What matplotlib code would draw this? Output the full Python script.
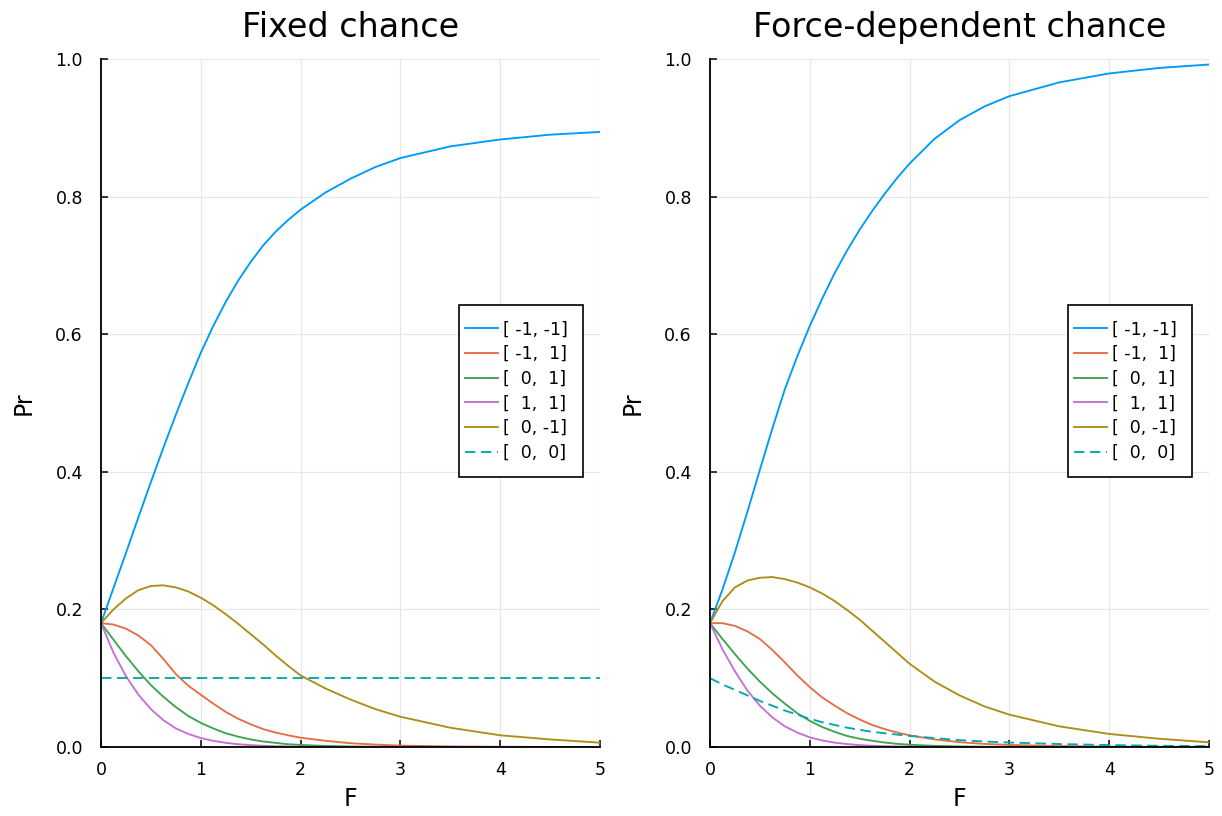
import matplotlib
matplotlib.use("Agg")
import matplotlib.pyplot as plt
from matplotlib.patches import Rectangle

# force values (F) at which the probabilities were tabulated
F = [0, 0.125, 0.25, 0.375, 0.5, 0.625, 0.75, 0.875, 1.0, 1.125, 1.25, 1.375, 1.5,
     1.625, 1.75, 1.875, 2.0, 2.25, 2.5, 2.75, 3.0, 3.5, 4.0, 4.5, 5.0]
F_flat = [0, 5]

labels = ["[ -1, -1]", "[ -1,  1]", "[  0,  1]", "[  1,  1]", "[  0, -1]", "[  0,  0]"]
colors = ["#009AFA", "#E36F47", "#3EA44E", "#C371D2", "#AC8E18", "#00A9AD"]

# --- fixed chance ---
fix_mm = [0.180, 0.231, 0.282, 0.334, 0.385, 0.435, 0.483, 0.529, 0.573, 0.612, 0.647, 0.678, 0.705,
          0.729, 0.749, 0.766, 0.781, 0.806, 0.826, 0.843, 0.856, 0.873, 0.883, 0.890, 0.894]
fix_mp = [0.180, 0.178, 0.172, 0.162, 0.148, 0.128, 0.106, 0.089, 0.076, 0.063, 0.051, 0.041, 0.033,
          0.026, 0.021, 0.017, 0.0135, 0.009, 0.0055, 0.0035, 0.002, 0.0008, 0.0003, 0.0001, 0.0]
fix_0p = [0.180, 0.156, 0.132, 0.110, 0.090, 0.073, 0.058, 0.045, 0.035, 0.027, 0.020, 0.015, 0.011,
          0.008, 0.006, 0.004, 0.003, 0.0015, 0.0008, 0.0004, 0.0002, 0.0, 0.0, 0.0, 0.0]
fix_pp = [0.180, 0.137, 0.103, 0.076, 0.055, 0.039, 0.027, 0.019, 0.013, 0.009, 0.006, 0.004, 0.0027,
          0.0018, 0.0012, 0.0008, 0.0005, 0.0002, 0.0, 0.0, 0.0, 0.0, 0.0, 0.0, 0.0]
fix_0m = [0.180, 0.200, 0.216, 0.228, 0.234, 0.235, 0.232, 0.226, 0.217, 0.206, 0.193, 0.179, 0.164,
          0.149, 0.133, 0.118, 0.104, 0.085, 0.069, 0.055, 0.044, 0.028, 0.017, 0.011, 0.0063]
fix_00 = [0.100, 0.100]

# --- force-dependent chance ---
dep_mm = [0.180, 0.229, 0.283, 0.342, 0.403, 0.463, 0.520, 0.568, 0.612, 0.652, 0.689, 0.722, 0.752,
          0.779, 0.804, 0.827, 0.848, 0.884, 0.911, 0.931, 0.946, 0.966, 0.979, 0.987, 0.992]
dep_mp = [0.180, 0.180, 0.176, 0.168, 0.157, 0.141, 0.123, 0.104, 0.087, 0.072, 0.060, 0.049, 0.040,
          0.032, 0.026, 0.021, 0.017, 0.011, 0.007, 0.0045, 0.003, 0.0013, 0.0006, 0.0003, 0.0001]
dep_0p = [0.180, 0.157, 0.135, 0.114, 0.095, 0.078, 0.063, 0.049, 0.038, 0.029, 0.022, 0.016, 0.012,
          0.009, 0.0065, 0.0046, 0.0033, 0.0017, 0.0008, 0.0004, 0.0002, 0.0, 0.0, 0.0, 0.0]
dep_pp = [0.180, 0.142, 0.110, 0.082, 0.060, 0.043, 0.030, 0.021, 0.014, 0.0095, 0.0063, 0.0042, 0.0027,
          0.0018, 0.0012, 0.0008, 0.0005, 0.0002, 0.0, 0.0, 0.0, 0.0, 0.0, 0.0, 0.0]
dep_0m = [0.180, 0.212, 0.232, 0.242, 0.246, 0.247, 0.244, 0.239, 0.232, 0.223, 0.212, 0.199, 0.185,
          0.169, 0.153, 0.137, 0.121, 0.095, 0.075, 0.059, 0.047, 0.030, 0.019, 0.012, 0.0068]
dep_00 = [0.100, 0.091, 0.083, 0.075, 0.067, 0.060, 0.053, 0.047, 0.041, 0.036, 0.032, 0.028, 0.025,
          0.022, 0.020, 0.018, 0.016, 0.013, 0.010, 0.008, 0.0065, 0.0043, 0.0028, 0.0018, 0.0012]

panels = [("Fixed chance", [fix_mm, fix_mp, fix_0p, fix_pp, fix_0m], F_flat, fix_00),
          ("Force-dependent chance", [dep_mm, dep_mp, dep_0p, dep_pp, dep_0m], F, dep_00)]

plt.rcParams.update({"font.family": "DejaVu Sans", "lines.scale_dashes": False})
fig = plt.figure(figsize=(12.22, 8.16), dpi=100, facecolor="white")
rects = [[101/1222, 69/816, 499/1222, 688/816],
         [710/1222, 69/816, 499/1222, 688/816]]

# legend box in axes fractions (left, bottom, width, height)
LBOX = (0.7174, 0.3924, 0.2486, 0.25)

for rect, (title, series, fx, y00) in zip(rects, panels):
    ax = fig.add_axes(rect)
    for y, lbl, col in zip(series, labels[:5], colors[:5]):
        ax.plot(F, y, color=col, lw=1.35, label=lbl)
    ax.plot(fx, y00, color=colors[5], lw=1.35, dashes=(7.5, 4), label=labels[5])
    ax.set_xlim(0, 5); ax.set_ylim(0, 1)
    ax.set_xticks([0, 1, 2, 3, 4, 5])
    ax.set_yticks([0.0, 0.2, 0.4, 0.6, 0.8, 1.0])
    ax.set_yticklabels(["0.0", "0.2", "0.4", "0.6", "0.8", "1.0"])
    ax.grid(True, color="#e6e6e6", lw=0.8)
    ax.set_axisbelow(True)
    for s in ("top", "right"):
        ax.spines[s].set_visible(False)
    for s in ("left", "bottom"):
        ax.spines[s].set_linewidth(1.3)
    ax.tick_params(direction="in", length=5, width=1.1, labelsize=12.5)
    ax.tick_params(axis="x", pad=10)
    ax.tick_params(axis="y", pad=13)
    ax.set_title(title, fontsize=24, pad=16)
    ax.set_xlabel("F", fontsize=17, labelpad=6)
    ax.set_ylabel("Pr", fontsize=17, labelpad=14)

    # framed box behind the legend entries
    ax.add_patch(Rectangle(LBOX[:2], LBOX[2], LBOX[3], transform=ax.transAxes,
                           facecolor="white", edgecolor="black", lw=1.2, zorder=4.5, clip_on=False))
    ax.legend(loc="center left", bbox_to_anchor=(LBOX[0], LBOX[1] + LBOX[3] / 2), fontsize=12.5,
              frameon=False, handlelength=1.9, handletextpad=0.3,
              labelspacing=0.385, borderpad=0.35, borderaxespad=0)

fig.savefig("out.png", dpi=100, facecolor="white")
